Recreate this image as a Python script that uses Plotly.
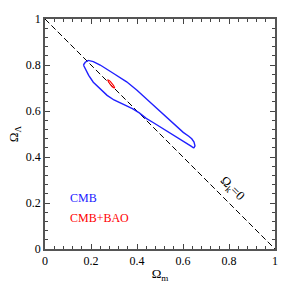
import plotly.graph_objects as go

# CMB contour (closed), Omega_m, Omega_Lambda
cmb_om = [0.167, 0.175, 0.188, 0.21, 0.24, 0.268, 0.30, 0.355, 0.40, 0.457, 0.50, 0.543, 0.58, 0.601,
          0.625, 0.638, 0.648, 0.652, 0.648, 0.645, 0.635, 0.61, 0.58, 0.54, 0.50, 0.47, 0.44, 0.41,
          0.38, 0.34, 0.30, 0.27, 0.24, 0.21, 0.19, 0.174, 0.167]
cmb_ol = [0.800, 0.812, 0.820, 0.815, 0.800, 0.784, 0.762, 0.727, 0.690, 0.638, 0.600, 0.560, 0.525, 0.507,
          0.490, 0.479, 0.465, 0.448, 0.441, 0.440, 0.447, 0.463, 0.482, 0.508, 0.533, 0.550, 0.568, 0.592,
          0.610, 0.628, 0.648, 0.668, 0.695, 0.725, 0.755, 0.784, 0.800]

# CMB+BAO contour (closed)
bao_om = [0.3025, 0.3023, 0.2983, 0.2915, 0.2838, 0.2772, 0.2735, 0.2737, 0.2777, 0.2845, 0.2922, 0.2988, 0.3025]
bao_ol = [0.699, 0.7029, 0.7106, 0.720, 0.7286, 0.7341, 0.735, 0.7311, 0.7234, 0.714, 0.7054, 0.6999, 0.699]

# flat universe line
flat_om = [0, 1]
flat_ol = [1, 0]

tickvals = [0, 0.2, 0.4, 0.6, 0.8, 1]
ticktext = ["0", "0.2", "0.4", "0.6", "0.8", "1"]

FONT = "Liberation Serif"

fig = go.Figure()
fig.add_trace(go.Scatter(x=flat_om, y=flat_ol, mode="lines",
                         line=dict(color="black", width=1, dash="6px,3px"), hoverinfo="skip"))
fig.add_trace(go.Scatter(x=cmb_om, y=cmb_ol, mode="lines",
                         line=dict(color="#2020ff", width=1.4)))
fig.add_trace(go.Scatter(x=bao_om, y=bao_ol, mode="lines",
                         line=dict(color="#ff0000", width=1.1)))

axis_common = dict(range=[0, 1], tickvals=tickvals, ticktext=ticktext, ticks="inside",
                   ticklen=5, tickwidth=1, tickcolor="#444", showgrid=False, zeroline=False,
                   showline=True, linecolor="#555", linewidth=1.5, mirror="ticks",
                   tickfont=dict(family=FONT, size=12, color="black"),
                   minor=dict(dtick=0.04, tick0=0, ticks="inside", ticklen=3, tickcolor="#444",
                              tickwidth=1, showgrid=False))

fig.update_layout(
    width=291, height=291,
    margin=dict(l=45, r=16, t=16, b=40),
    paper_bgcolor="white", plot_bgcolor="white",
    showlegend=False,
    xaxis=dict(**axis_common, title=dict(text="Ω<sub>m</sub>", font=dict(family=FONT, size=13, color="black"), standoff=2)),
    yaxis=dict(**axis_common, title=dict(text="Ω<sub>Λ</sub>", font=dict(family=FONT, size=13, color="black"), standoff=4)),
    annotations=[
        dict(x=0.10, y=0.22, text="CMB", showarrow=False, xanchor="left",
             font=dict(family=FONT, size=12, color="#2020ff")),
        dict(x=0.10, y=0.135, text="CMB+BAO", showarrow=False, xanchor="left",
             font=dict(family=FONT, size=12, color="#ff0000")),
        dict(x=0.812, y=0.262, text="Ω<sub>k</sub>=0", showarrow=False, textangle=45,
             font=dict(family=FONT, size=13, color="black")),
    ],
)

fig.write_html("out.html", config={"displayModeBar": False},
               post_script="document.body.style.margin='0px';")
